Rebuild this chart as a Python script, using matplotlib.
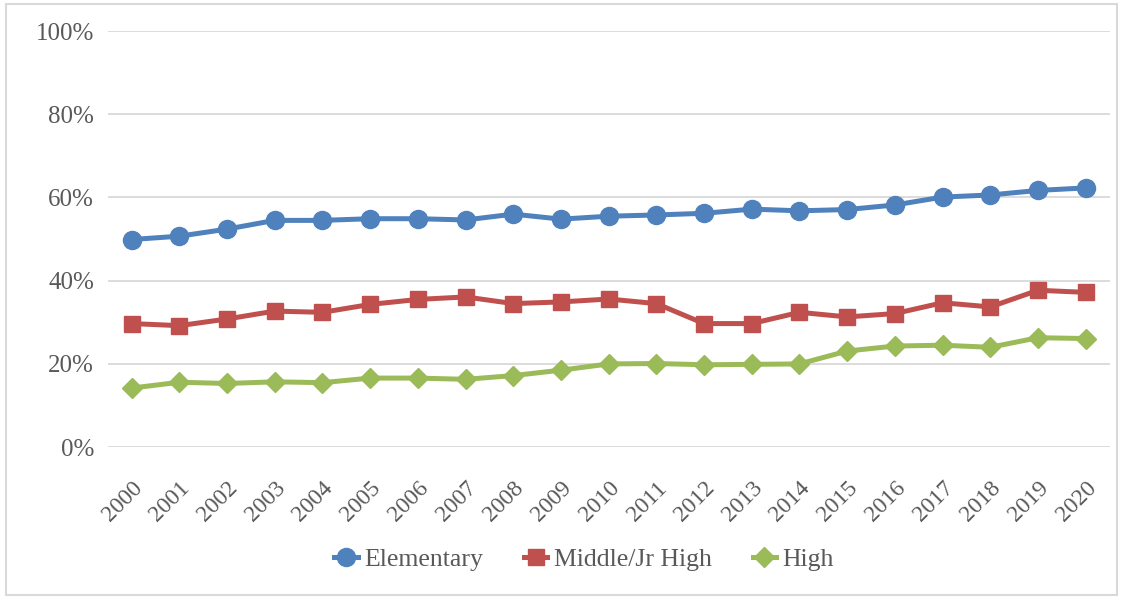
import matplotlib.pyplot as plt
from matplotlib.patches import Rectangle
from matplotlib.ticker import FuncFormatter

# --- data ---
years = list(range(2000, 2021))
elementary = [49.9, 50.7, 52.4, 54.5, 54.5, 54.9, 54.9, 54.6, 56.0, 54.8, 55.5,
              55.8, 56.2, 57.2, 56.8, 57.1, 58.2, 60.1, 60.6, 61.7, 62.3]
middle = [29.7, 29.2, 30.8, 32.7, 32.4, 34.3, 35.5, 36.1, 34.5, 34.9, 35.6,
          34.5, 29.7, 29.7, 32.4, 31.3, 32.1, 34.7, 33.7, 37.7, 37.2]
high = [14.2, 15.6, 15.3, 15.7, 15.5, 16.6, 16.6, 16.3, 17.2, 18.5, 20.0,
        20.1, 19.8, 19.9, 20.0, 23.1, 24.3, 24.5, 24.0, 26.3, 26.1]
y_ticks = [0, 20, 40, 60, 80, 100]

plt.rcParams['font.family'] = ['Liberation Serif', 'DejaVu Serif']
text_col = '#595959'

fig = plt.figure(figsize=(11.23, 5.97), dpi=100)
ax = fig.add_axes([0.096, 0.251, 0.892, 0.697])

# outer chart border
fig.patches.append(Rectangle((0.005, 0.004), 0.99, 0.99, transform=fig.transFigure,
                             fill=False, edgecolor='#D9D9D9', linewidth=1.5))

ax.plot(years, elementary, color='#4F81BD', lw=3.6, marker='o', ms=13, label='Elementary')
ax.plot(years, middle, color='#C0504D', lw=3.6, marker='s', ms=12, label='Middle/Jr High')
ax.plot(years, high, color='#9BBB59', lw=3.6, marker='D', ms=10, label='High')

ax.set_ylim(0, 100)
ax.set_xlim(years[0] - 0.5, years[-1] + 0.5)
ax.set_yticks(y_ticks)
ax.yaxis.set_major_formatter(FuncFormatter(lambda v, p: f'{v:.0f}%'))
ax.set_xticks(years)
ax.set_xticklabels([str(y) for y in years], rotation=45, ha='right', rotation_mode='anchor')
ax.grid(axis='y', color='#D9D9D9', lw=1.3)
ax.set_axisbelow(True)
for s in ax.spines.values():
    s.set_visible(False)
ax.tick_params(axis='y', length=0, labelsize=18, colors=text_col, pad=10)
ax.tick_params(axis='x', length=0, labelsize=17, colors=text_col, pad=22)

leg = fig.legend(loc='center', bbox_to_anchor=(0.52, 0.063), ncol=3, frameon=False,
                 fontsize=18.5, handlelength=0.9, columnspacing=1.6, handletextpad=0.25)
for t in leg.get_texts():
    t.set_color(text_col)

fig.savefig('out.png', dpi=100)
